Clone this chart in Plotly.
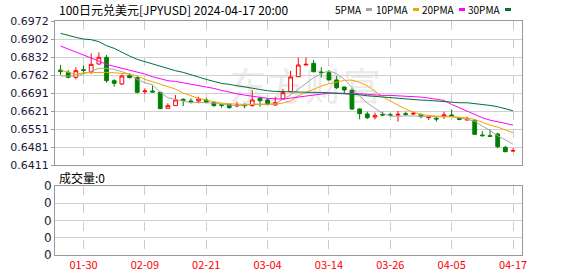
import plotly.graph_objects as go

dates = ["01-25","01-26","01-29","01-30","01-31","02-01","02-02","02-05","02-06","02-07",
         "02-08","02-09","02-12","02-13","02-14","02-15","02-16","02-19","02-20","02-21",
         "02-22","02-23","02-26","02-27","02-28","02-29","03-01","03-04","03-05","03-06",
         "03-07","03-08","03-11","03-12","03-13","03-14","03-15","03-18","03-19","03-20",
         "03-21","03-22","03-25","03-26","03-27","03-28","03-29","04-01","04-02","04-03",
         "04-04","04-05","04-08","04-09","04-10","04-11","04-12","04-15","04-16","04-17"]

opens = [0.67811,0.67720,0.67526,0.67824,0.67746,0.68045,0.68305,0.67396,0.67266,0.67591,
         0.67513,0.66967,0.66993,0.66941,0.66318,0.66422,0.66669,0.66604,0.66604,0.66643,
         0.66539,0.66461,0.66474,0.66409,0.66448,0.66422,0.66708,0.66643,0.66448,0.66682,
         0.66967,0.67552,0.68006,0.68071,0.67733,0.67708,0.67422,0.67149,0.67019,0.66292,
         0.66097,0.65980,0.66084,0.66071,0.66058,0.66110,0.66097,0.66084,0.65954,0.65928,
         0.66019,0.66058,0.65928,0.65863,0.65850,0.65279,0.65253,0.65318,0.64799,0.64656]
highs = [0.68006,0.67811,0.67915,0.67980,0.68461,0.68500,0.68396,0.67448,0.67643,0.67682,
         0.67552,0.67097,0.67201,0.66967,0.66513,0.66837,0.66708,0.66708,0.66772,0.66708,
         0.66552,0.66513,0.66500,0.66578,0.66513,0.67032,0.66708,0.66682,0.66760,0.67071,
         0.67772,0.68292,0.68292,0.68201,0.67915,0.67811,0.67578,0.67162,0.67097,0.66318,
         0.66188,0.66149,0.66188,0.66136,0.66214,0.66188,0.66188,0.66110,0.66019,0.66019,
         0.66188,0.66279,0.65980,0.65993,0.65889,0.65435,0.65500,0.65370,0.64851,0.64760]
lows = [0.67617,0.67487,0.67448,0.67656,0.67656,0.68006,0.67318,0.67162,0.67227,0.67487,
        0.66902,0.66876,0.66941,0.66292,0.66318,0.66422,0.66409,0.66513,0.66513,0.66513,
        0.66383,0.66344,0.66305,0.66357,0.66318,0.66383,0.66383,0.66422,0.66422,0.66643,
        0.66941,0.67552,0.68006,0.67720,0.67513,0.67422,0.67071,0.66902,0.66253,0.65889,
        0.65902,0.65889,0.66019,0.66006,0.65799,0.66032,0.66058,0.65928,0.65863,0.65799,
        0.65902,0.65993,0.65850,0.65850,0.65279,0.65214,0.65214,0.64760,0.64604,0.64630]
closes = [0.67746,0.67526,0.67785,0.67798,0.68032,0.68305,0.67396,0.67292,0.67578,0.67513,
          0.66941,0.66993,0.66954,0.66305,0.66422,0.66643,0.66630,0.66578,0.66682,0.66552,
          0.66422,0.66435,0.66344,0.66448,0.66422,0.66643,0.66617,0.66474,0.66539,0.66928,
          0.67539,0.68006,0.68032,0.67746,0.67708,0.67422,0.67123,0.67032,0.66292,0.66110,
          0.65954,0.66032,0.66058,0.66045,0.66084,0.66084,0.66123,0.65993,0.65993,0.65902,
          0.66058,0.66019,0.65889,0.65889,0.65305,0.65253,0.65227,0.64825,0.64630,0.64669]

ma5 = [0.67575,0.67575,0.67575,0.67653,0.67770,0.67874,0.67874,0.67835,0.67744,0.67640,
       0.67445,0.67315,0.67237,0.66938,0.66730,0.66665,0.66574,0.66535,0.66548,0.66548,
       0.66522,0.66483,0.66444,0.66418,0.66444,0.66470,0.66483,0.66470,0.66496,0.66678,
       0.66834,0.67068,0.67289,0.67510,0.67666,0.67783,0.67666,0.67445,0.67133,0.66795,
       0.66522,0.66314,0.66119,0.66015,0.66002,0.66028,0.66028,0.66028,0.66002,0.65989,
       0.66002,0.66002,0.65950,0.65885,0.65820,0.65625,0.65456,0.65248,0.65079,0.64923]
ma10 = [0.67809,0.67718,0.67640,0.67705,0.67718,0.67718,0.67718,0.67705,0.67679,0.67653,
        0.67575,0.67445,0.67354,0.67250,0.67159,0.67068,0.66912,0.66795,0.66704,0.66639,
        0.66574,0.66522,0.66496,0.66470,0.66470,0.66470,0.66470,0.66470,0.66483,0.66522,
        0.66613,0.66808,0.66938,0.67055,0.67185,0.67276,0.67354,0.67406,0.67419,0.67328,
        0.67198,0.66990,0.66769,0.66600,0.66444,0.66288,0.66171,0.66080,0.66041,0.66002,
        0.65989,0.65989,0.65976,0.65950,0.65885,0.65768,0.65664,0.65586,0.65469,0.65365]
ma20 = [0.68745,0.68628,0.68524,0.68420,0.68303,0.68160,0.68030,0.67952,0.67874,0.67809,
        0.67744,0.67653,0.67549,0.67471,0.67393,0.67367,0.67315,0.67263,0.67211,0.67159,
        0.67094,0.67016,0.66938,0.66886,0.66834,0.66782,0.66730,0.66704,0.66691,0.66678,
        0.66717,0.66756,0.66808,0.66860,0.66886,0.66912,0.66912,0.66912,0.66899,0.66886,
        0.66860,0.66834,0.66821,0.66821,0.66808,0.66795,0.66795,0.66756,0.66717,0.66678,
        0.66626,0.66470,0.66340,0.66184,0.66054,0.65950,0.65859,0.65794,0.65729,0.65664]
ma30 = [0.69239,0.69148,0.69083,0.69018,0.68992,0.68914,0.68758,0.68654,0.68498,0.68355,
        0.68225,0.68134,0.68056,0.67965,0.67874,0.67783,0.67718,0.67640,0.67536,0.67445,
        0.67367,0.67289,0.67250,0.67198,0.67159,0.67094,0.67042,0.67003,0.66977,0.66964,
        0.66951,0.66938,0.66938,0.66938,0.66938,0.66925,0.66912,0.66886,0.66873,0.66847,
        0.66808,0.66782,0.66743,0.66730,0.66691,0.66665,0.66652,0.66639,0.66626,0.66600,
        0.66574,0.66548,0.66535,0.66535,0.66509,0.66470,0.66431,0.66379,0.66314,0.66223]

volume = [0, 0, 0, 0, 0, 0, 0, 0, 0, 0, 0, 0, 0, 0, 0, 0, 0, 0, 0, 0,
          0, 0, 0, 0, 0, 0, 0, 0, 0, 0, 0, 0, 0, 0, 0, 0, 0, 0, 0, 0,
          0, 0, 0, 0, 0, 0, 0, 0, 0, 0, 0, 0, 0, 0, 0, 0, 0, 0, 0, 0]

price_ticks = [0.6411, 0.6481, 0.6551, 0.6621, 0.6691, 0.6762, 0.6832, 0.6902, 0.6972]
price_tick_vals = [0.6411, 0.648111, 0.655123, 0.662134, 0.669145, 0.676156, 0.683168, 0.690179, 0.6972]
vol_ticks = [0, 0.25, 0.5, 0.75, 1.0]
x_ticks = ["01-30", "02-09", "02-21", "03-04", "03-14", "03-26", "04-05", "04-17"]

ma_names = ["5PMA", "10PMA", "20PMA", "30PMA"]
ma_colors = ["#a6a6a6", "#f5a300", "#ff00ff", "#00703c"]
ma_series = [ma5, ma10, ma20, ma30]

W, H = 578, 276
L, R = 55, 522
def px(v): return v / W
def py(v): return 1 - v / H

fig = go.Figure()

fig.add_trace(go.Candlestick(
    x=dates, open=opens, high=highs, low=lows, close=closes,
    xaxis="x2", yaxis="y",
    increasing=dict(line=dict(color="#ff0000", width=1), fillcolor="#ffffff"),
    decreasing=dict(line=dict(color="#008000", width=1), fillcolor="#008000"),
    whiskerwidth=0, showlegend=False, hoverinfo="skip"))

for name, col, s in zip(ma_names, ma_colors, ma_series):
    fig.add_trace(go.Scatter(x=dates, y=s, mode="lines", name=name,
                             line=dict(color=col, width=1), xaxis="x2", yaxis="y",
                             showlegend=False, hoverinfo="skip"))

fig.add_trace(go.Bar(x=dates, y=volume, xaxis="x", yaxis="y2",
                     marker_color="#888", showlegend=False, hoverinfo="skip"))

xrange = [-0.72, 60.17]
grid_x = dict(type="category", range=xrange, tickmode="array", tickvals=x_ticks,
              showgrid=True, gridcolor="#cccccc", griddash="dash", gridwidth=1,
              showline=True, linecolor="#999999", linewidth=1, mirror=True,
              ticks="", zeroline=False, fixedrange=True, automargin=False,
              rangeslider=dict(visible=False))

fig.update_layout(
    template="none",
    width=W, height=H, autosize=False,
    margin=dict(l=0, r=0, t=0, b=0, pad=0),
    paper_bgcolor="white", plot_bgcolor="white",
    xaxis=dict(grid_x, domain=[px(L), px(R)], anchor="y2",
               ticktext=x_ticks, showticklabels=True,
               tickfont=dict(family="Noto Sans CJK SC", size=11, color="#ff0000")),
    xaxis2=dict(grid_x, domain=[px(L), px(R)], anchor="y", matches="x",
                showticklabels=False),
    yaxis=dict(domain=[py(165), py(21)], range=[0.6411, 0.6972], anchor="x2",
               tickmode="array", tickvals=price_tick_vals,
               ticktext=[f"{v:.4f}" for v in price_ticks],
               showgrid=True, gridcolor="#d0d0d0", gridwidth=1,
               showline=True, linecolor="#999999", linewidth=1, mirror=True,
               ticks="outside", ticklen=3, tickcolor="#999999",
               tickfont=dict(family="DejaVu Sans", size=11, color="#1a1a3a"),
               zeroline=False, fixedrange=True, automargin=False),
    yaxis2=dict(domain=[py(255), py(186)], range=[0, 1], anchor="x",
                tickmode="array", tickvals=vol_ticks, ticktext=["0"] * len(vol_ticks),
                showgrid=True, gridcolor="#d0d0d0", gridwidth=1,
                showline=True, linecolor="#999999", linewidth=1, mirror=True,
                ticks="", tickfont=dict(family="DejaVu Sans", size=12, color="#1a1a3a"),
                zeroline=False, fixedrange=True, automargin=False),
    shapes=[
        dict(type="rect", xref="paper", yref="paper", layer="below",
             x0=px(205), x1=px(405), y0=py(112), y1=py(66),
             line=dict(width=0), fillcolor="rgba(0,0,0,0)",
             label=dict(text="东方财富", font=dict(family="Noto Sans CJK SC", size=38, color="#ebebeb"))),
    ],
    annotations=[
        dict(text="100日元兑美元[JPYUSD] 2024-04-17 20:00", xref="paper", yref="paper",
             x=px(57), y=py(9.5), xanchor="left", yanchor="middle", showarrow=False,
             font=dict(family="Noto Sans CJK SC", size=12, color="#000000")),
        dict(text="成交量:0", xref="paper", yref="paper",
             x=px(57), y=py(177), xanchor="left", yanchor="middle", showarrow=False,
             font=dict(family="Noto Sans CJK SC", size=12, color="#000000")),
    ],
)

legend_rect_x = [366, 413, 459, 505]
for name, col, rx in zip(ma_names, ma_colors, legend_rect_x):
    fig.add_annotation(text=name, xref="paper", yref="paper", x=px(rx - 2), y=py(9.5),
                       xanchor="right", yanchor="middle", showarrow=False,
                       font=dict(family="Noto Sans CJK SC", size=10, color="#000000"))
    fig.add_shape(type="rect", xref="paper", yref="paper", x0=px(rx), x1=px(rx + 6),
                  y0=py(11), y1=py(8), fillcolor=col, line=dict(width=0))

fig.write_html("out.html")
